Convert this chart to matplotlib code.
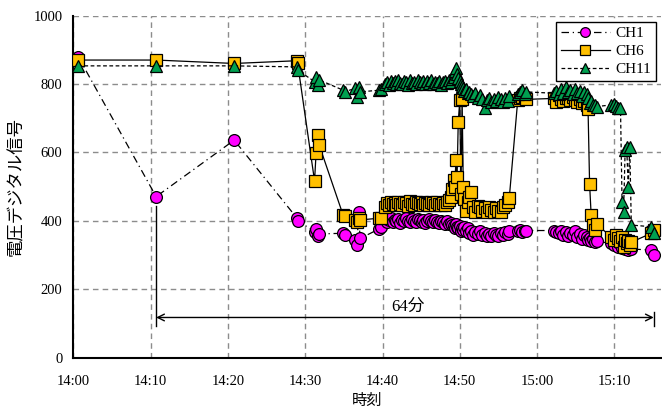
import matplotlib
matplotlib.use("Agg")
import matplotlib.pyplot as plt

# sample times in minutes after 14:00
times = [
    0.6, 10.7, 20.8, 28.9, 29.0,
    31.2, 31.4, 31.6, 31.8,
    34.9, 35.1,
    36.5, 36.7, 36.9, 37.1,
    39.6, 39.8,
    40.3, 40.55, 40.8, 41.05, 41.3, 41.55, 41.8, 42.05, 42.3, 42.55, 42.8, 43.05,
    43.3, 43.55, 43.8, 44.05, 44.3, 44.55, 44.8, 45.05, 45.3, 45.55, 45.8, 46.05,
    46.3, 46.55, 46.8, 47.05, 47.3, 47.55, 47.8, 48.05, 48.3, 48.55, 48.8, 49.05,
    49.2, 49.35, 49.5, 49.65, 49.8, 50.0, 50.15, 50.3, 50.45, 50.6, 50.8, 51.0,
    51.25, 51.5, 51.75, 52.0, 52.3, 52.6, 52.9, 53.2, 53.5, 53.8, 54.1, 54.4,
    54.7, 55.0, 55.3, 55.6, 55.9, 56.2, 56.4, 57.5, 57.8, 58.1, 58.4, 58.6,
    62.2, 62.5, 62.8, 63.1, 63.4, 63.7, 64.0, 64.3, 64.6, 64.9, 65.2, 65.5,
    65.8, 66.1, 66.4, 66.6, 66.8, 67.0, 67.2, 67.5, 67.7,
    69.6, 69.9, 70.2, 70.5, 70.8, 71.0, 71.2, 71.4, 71.6, 71.8, 72.0, 72.2,
    74.8, 75.1,
]

ch1 = [
    880, 471, 636, 409, 401,
    369, 376, 356, 362,
    364, 360,
    345, 330, 427, 349,
    377, 382,
    405, 398, 402, 410, 396, 404, 400, 407, 395, 403, 399, 408,
    401, 396, 405, 400, 397, 406, 402, 398, 404, 395, 400, 407,
    399, 396, 403, 398, 394, 401, 397, 392, 399, 390, 395, 388,
    386, 380, 390, 383, 378, 385, 372, 380, 375, 382, 370, 378,
    365, 372, 360, 368, 362, 370, 358, 365, 355, 362, 357, 366,
    360, 356, 364, 359, 367, 362, 370, 372, 375, 368, 370, 372,
    372, 369, 365, 372, 360, 368, 355, 366, 358, 370, 352, 362,
    348, 358, 354, 345, 350, 342, 348, 338, 340,
    335, 330, 338, 325, 332, 320, 328, 318, 325, 315, 322, 318,
    315, 301,
]

ch6 = [
    870, 870, 860, 868, 862,
    517, 598, 651, 622,
    417, 413,
    403, 398, 408, 403,
    408, 410,
    440, 452, 447, 455, 449, 453, 446, 456, 450, 448, 454, 451,
    445, 457, 450, 447, 455, 452, 449, 456, 448, 453, 450, 446,
    455, 451, 448, 454, 450, 446, 452, 448, 455, 460, 470, 492,
    520, 500, 578, 529, 690, 753, 480, 757, 500, 465, 430, 455,
    471, 486, 440, 425, 445, 442, 430, 437, 425, 440, 432, 427,
    437, 430, 425, 440, 447, 455, 466, 753, 760, 762, 758, 755,
    758, 748, 768, 755, 750, 760, 758, 752, 762, 752, 748, 755,
    745, 750, 740, 726, 508, 418, 388, 373, 390,
    354, 345, 360, 349, 340, 352, 325, 345, 335, 340, 330, 338,
    364, 375,
]

ch11 = [
    853, 853, 853, 850, 841,
    807, 821, 797, 812,
    782, 778,
    787, 763, 790, 777,
    782, 786,
    800, 806, 798, 810, 803, 808, 799, 812, 804, 801, 809, 805,
    798, 811, 803, 807, 800, 813, 806, 802, 810, 799, 808, 804,
    812, 801, 807, 803, 810, 798, 806, 809, 802, 811, 805, 815,
    820, 838, 846, 830, 818, 808, 800, 795, 788, 780, 785, 773,
    778, 770, 765, 775, 760, 768, 755, 729, 752, 760, 748, 757,
    750, 762, 755, 748, 760, 749, 765, 770, 777, 782, 772, 777,
    773, 780, 770, 785, 775, 790, 778, 782, 770, 786, 775, 780,
    765, 777, 772, 760, 745, 750, 740, 738, 734,
    739, 743, 735, 729, 729, 456, 427, 607, 617, 500, 615, 388,
    383, 364,
]

tick_pos = [0, 10, 20, 30, 40, 50, 60, 70]
tick_labels = ["14:00", "14:10", "14:20", "14:30", "14:40", "14:50", "15:00", "15:10"]

serif = "Liberation Serif"
jp = ["Noto Sans CJK JP", "DejaVu Sans"]

fig = plt.figure(figsize=(6.62, 4.09), dpi=100)
ax = fig.add_axes([0.111, 0.125, 0.887, 0.837])

ax.plot(times, ch1, linestyle=(0, (6, 3, 1, 3)), color="black", lw=0.9,
        marker="o", markersize=8.5, markerfacecolor="#FF00FF",
        markeredgecolor="black", markeredgewidth=0.9, label="CH1", zorder=3)
ax.plot(times, ch6, linestyle="-", color="black", lw=0.9,
        marker="s", markersize=8, markerfacecolor="#FFC000",
        markeredgecolor="black", markeredgewidth=0.9, label="CH6", zorder=4)
ax.plot(times, ch11, linestyle=(0, (3, 2)), color="black", lw=0.9,
        marker="^", markersize=9, markerfacecolor="#00A050",
        markeredgecolor="black", markeredgewidth=0.9, label="CH11", zorder=5)

# 64 minute span annotation
t0, t1 = times[1], times[-1]
ax.plot([t0, t0], [93, 445], color="black", lw=1.0, zorder=2)
ax.plot([t1, t1], [93, 135], color="black", lw=1.0, zorder=2)
ax.annotate("", xy=(t0, 118), xytext=(t1, 118),
            arrowprops=dict(arrowstyle="<->", color="black", lw=1.0,
                            shrinkA=0, shrinkB=0, mutation_scale=12))
ax.text(43.3, 150, "64分", ha="center", va="center", fontsize=12,
        family=[serif, "Noto Sans CJK JP"])

ax.set_xlim(0, 76)
ax.set_ylim(0, 1000)
ax.set_xticks(tick_pos)
ax.set_xticklabels(tick_labels)
ax.set_yticks(range(0, 1001, 200))
for lab in ax.get_xticklabels() + ax.get_yticklabels():
    lab.set_family(serif)
    lab.set_fontsize(10.5)
ax.tick_params(axis="x", length=0, pad=12)
ax.tick_params(axis="y", length=0, pad=8)

ax.grid(True, linestyle=(0, (4, 3)), color="#8c8c8c", lw=1.0)
ax.set_axisbelow(True)
for side in ["top", "right"]:
    ax.spines[side].set_visible(False)
for side in ["left", "bottom"]:
    ax.spines[side].set_linewidth(1.5)
    ax.spines[side].set_color("black")

ax.set_xlabel("時刻", family=jp, fontsize=11, labelpad=3)
ax.set_ylabel("電圧デジタル信号", family=jp, fontsize=12.5, labelpad=6)

leg = ax.legend(loc="upper right", bbox_to_anchor=(1.0, 0.995),
                borderaxespad=0.3,
                prop={"family": serif, "size": 11}, handlelength=3.2,
                fancybox=False, framealpha=1, edgecolor="black",
                borderpad=0.3, labelspacing=0.28, handletextpad=0.4)
leg.get_frame().set_linewidth(1.0)
for h in leg.legend_handles:
    h.set_markersize(7)

fig.savefig("out.png", dpi=100)
